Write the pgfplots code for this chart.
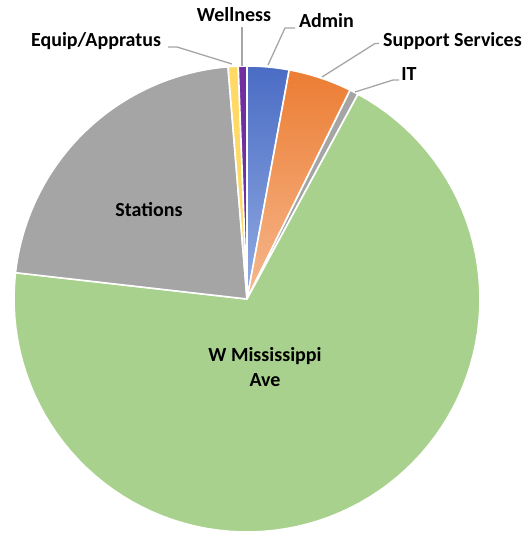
\documentclass[border=0pt]{standalone}
\usepackage{pgfplots}
\pgfplotsset{compat=1.18}
\usepackage{pgfplotstable}
\usepackage{fontspec}
\setmainfont{Carlito}

\definecolor{blueTop}{HTML}{4A6CC4}
\definecolor{blueBot}{HTML}{93ACE3}
\definecolor{orangeTop}{HTML}{EC7D33}
\definecolor{orangeBot}{HTML}{F6B88E}
\definecolor{pieGray}{HTML}{A5A5A5}
\definecolor{pieGreen}{HTML}{A9D18E}
\definecolor{pieYellow}{HTML}{FFD966}
\definecolor{piePurple}{HTML}{7030A0}
\definecolor{leader}{HTML}{A6A6A6}

% share of each slice, clockwise from 12 o'clock
\pgfplotstableread{
name value
Admin 2.9
Support 4.4
IT 0.6
WMiss 68.9
Stations 21.9
Equip 0.7
Wellness 0.6
}\piedata

\pgfplotsset{
  slice0/.style={top color=blueTop, bottom color=blueBot},
  slice1/.style={top color=orangeTop, bottom color=orangeBot},
  slice2/.style={fill=pieGray},
  slice3/.style={fill=pieGreen},
  slice4/.style={fill=pieGray},
  slice5/.style={fill=pieYellow},
  slice6/.style={fill=piePurple},
}

\begin{document}
\begin{tikzpicture}
\begin{axis}[
    width=528pt, height=533pt, scale only axis,
    xmin=0, xmax=528, ymin=0, ymax=533,
    y dir=reverse,
    hide axis, clip=false,
    font=\fontsize{20}{24}\selectfont\bfseries,
]
\pgfmathsetmacro\cum{0}
\pgfplotsforeachungrouped \i in {0,...,6}{%
  \pgfplotstablegetelem{\i}{value}\of\piedata
  \pgfmathsetmacro\a{90-3.6*\cum}%
  \pgfmathsetmacro\cum{\cum+\pgfplotsretval}%
  \pgfmathsetmacro\b{90-3.6*\cum}%
  \edef\temp{\noexpand\addplot[slice\i, draw=white, line width=1.6pt, line join=round,
      domain=\b:\a, samples=90, variable=\noexpand\t]
      ({247+233*cos(\noexpand\t)},{299-233*sin(\noexpand\t)}) -- (axis cs:247,299) -- cycle;}%
  \temp
}

% leader lines
\draw[leader, line width=1.3pt] (axis cs:242,66) -- (axis cs:242,27);
\draw[leader, line width=1.3pt] (axis cs:268,65) -- (axis cs:285,28) -- (axis cs:295,28);
\draw[leader, line width=1.3pt] (axis cs:322,77) -- (axis cs:375,43.5) -- (axis cs:379,43.5);
\draw[leader, line width=1.3pt] (axis cs:355,92) -- (axis cs:393,80) -- (axis cs:399,80);
\draw[leader, line width=1.3pt] (axis cs:232,64) -- (axis cs:177,47) -- (axis cs:168,47);

% labels
\node[anchor=base] at (axis cs:234,21) {Wellness};
\node[anchor=base] at (axis cs:326.5,27) {Admin};
\node[anchor=base] at (axis cs:452.5,46.7) {Support Services};
\node[anchor=base] at (axis cs:409,80.7) {IT};
\node[anchor=base] at (axis cs:96,46.7) {Equip/Appratus};
\node[anchor=base] at (axis cs:149,216.7) {Stations};
\node[anchor=base] at (axis cs:265,361.7) {W Mississippi};
\node[anchor=base] at (axis cs:265,386.7) {Ave};
\end{axis}
\pgfresetboundingbox
\useasboundingbox (current axis.south west) rectangle (current axis.north east);
\end{tikzpicture}
\end{document}
